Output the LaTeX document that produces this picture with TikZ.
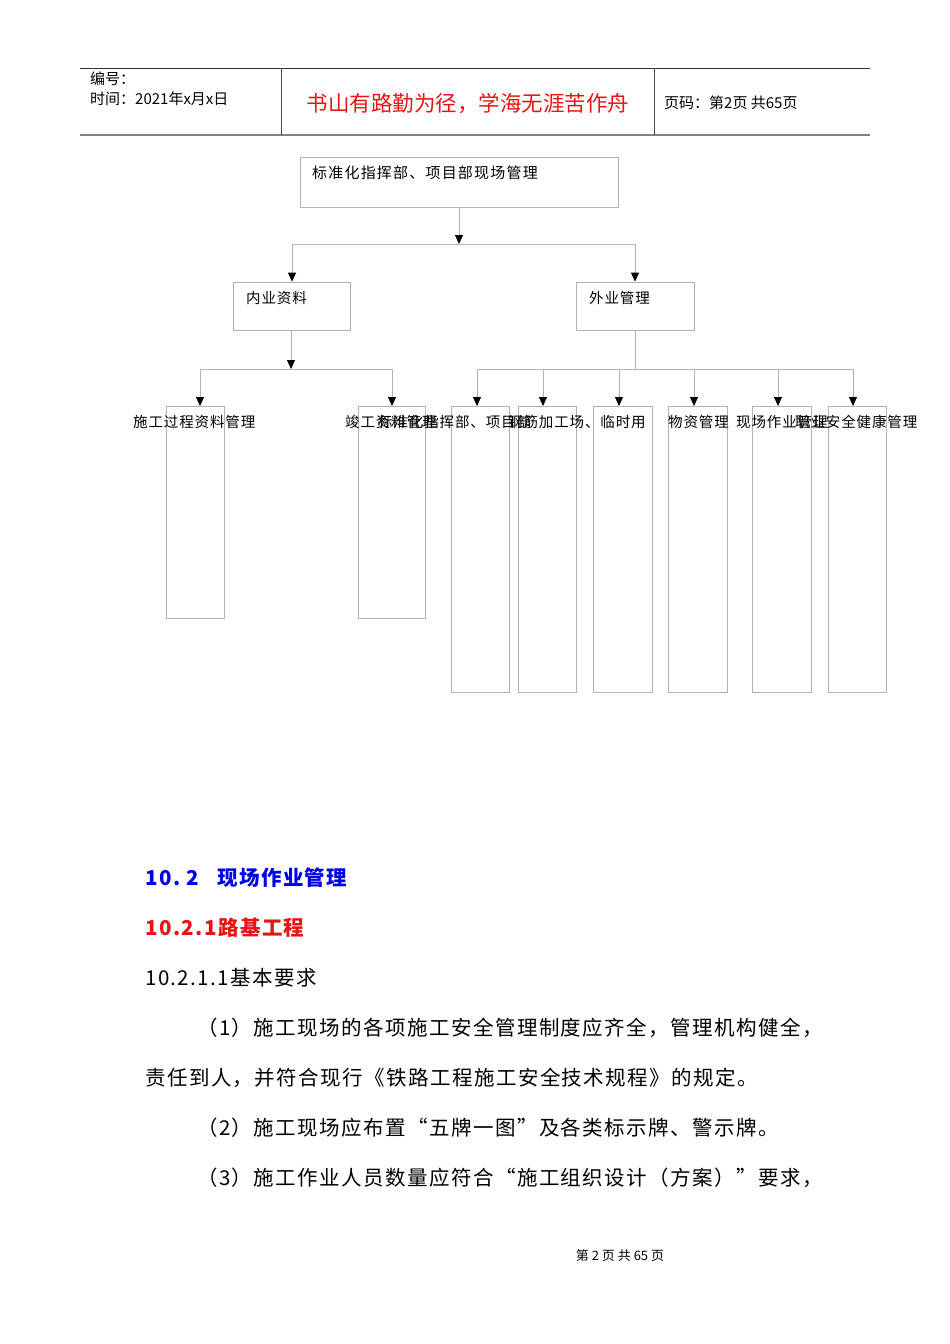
\documentclass[tikz,border=0pt]{standalone}
\usepackage{fontspec}
\setmainfont{Noto Sans CJK SC}
\usetikzlibrary{arrows.meta}
\definecolor{ln}{gray}{0.7}
\definecolor{tblue}{RGB}{0,0,230}
\definecolor{tred}{RGB}{230,20,20}
\begin{document}
\begin{tikzpicture}[x=1pt,y=-1pt,
  bx/.style={draw=ln,line width=0.8pt},
  con/.style={draw=ln,line width=0.8pt},
  arr/.style={con,-{Triangle[length=9pt,width=8pt,fill=black,color=black]}},
  lbl/.style={anchor=west,inner sep=0,font=\fontsize{14.5pt}{16pt}\selectfont\addfontfeature{LetterSpace=6}},
  hd/.style={anchor=west,inner sep=0,font=\fontsize{15pt}{17pt}\selectfont},
  body/.style={anchor=west,inner sep=0,font=\fontsize{20.5pt}{24pt}\selectfont\addfontfeature{LetterSpace=7}}]
\useasboundingbox (0,0) rectangle (950,1344);
% header
\draw[line width=0.8pt,black!80] (80,68) -- (870,68);
\draw[line width=1.6pt,black!50] (80,135) -- (870,135);
\draw[line width=0.8pt,black!70] (281,68) -- (281,135) (654,68) -- (654,135);
\node[hd] (h1) at (90,79) {编号：};
\node[hd] (h2) at (90,99) {时间：2021年x月x日};
\node[inner sep=0,text=tred,font=\fontsize{21.5pt}{24pt}\selectfont] (h3) at (468,104) {书山有路勤为径，学海无涯苦作舟};
\node[hd] (h4) at (664,103) {页码：第2页 共65页};
% tree
\node[bx,minimum width=318,minimum height=50,inner sep=0] (top) at (459,182) {};
\node[lbl,font=\fontsize{15pt}{18pt}\selectfont\addfontfeature{LetterSpace=8}] (topt) at (312,173) {标准化指挥部、项目部现场管理};
\node[bx,minimum width=117,minimum height=48,inner sep=0] (nei) at (291.5,306) {};
\node[lbl] (neit) at (246,298) {内业资料};
\node[bx,minimum width=118,minimum height=48,inner sep=0] (wai) at (635,306) {};
\node[lbl] (wait) at (589,298) {外业管理};
\coordinate (j0) at (459,244);
\draw[arr] (top.south) -- (j0);
\draw[con] (292,244) -- (635,244);
\draw[arr] (292,244) -- (nei.north -| 292,0);
\draw[arr] (635,244) -- (wai.north);
% level 3 boxes
\foreach \n/\a/\b/\h in {b1/166/224/618,b2/358/425/618,c1/451/509/692,c2/518/576/692,c3/593/652/692,c4/668/727/692,c5/752/811/692,c6/828/886/692}{
  \draw[bx] (\a,406) rectangle (\b,\h);
  \coordinate (\n) at ({(\a+\b)/2},406);
}
\coordinate (jn) at (291,369);
\draw[arr] (nei.south -| 291,0) -- (jn);
\draw[con] (200,369) -- (392,369);
\draw[arr] (200,369) -- (200,406);
\draw[arr] (392,369) -- (392,406);
\draw[con] (wai.south) -- (635,369);
\draw[con] (477,369) -- (853,369);
\foreach \x in {477,543,619,694,778,853}{\draw[arr] (\x,369) -- (\x,406);}
% labels
\node[lbl] (l1) at (133,422) {施工过程资料管理};
\node[lbl] (l2) at (345,422) {竣工资料管理};
\node[lbl] (l3) at (378,422) {标准化指挥部、项目部};
\node[lbl] (l4) at (508,422) {钢筋加工场、临时用};
\node[lbl] (l5) at (668,422) {物资管理};
\node[lbl] (l6) at (736,422) {现场作业管理};
\node[lbl] (l7) at (795,422) {职业安全健康管理};
% body text
\node[body,text=tblue,font=\bfseries\fontsize{20.5pt}{24pt}\selectfont\addfontfeature{LetterSpace=7}] (s1) at (145,878) {10.\ 2\ \ \ 现场作业管理};
\node[body,text=tred,font=\bfseries\fontsize{20.5pt}{24pt}\selectfont\addfontfeature{LetterSpace=7}] (s2) at (145,928) {10.2.1路基工程};
\node[body] (s3) at (145,978) {10.2.1.1基本要求};
\node[body] (p1) at (197,1028) {（1）施工现场的各项施工安全管理制度应齐全，管理机构健全，};
\node[body] (p2) at (145,1078) {责任到人，并符合现行《铁路工程施工安全技术规程》的规定。};
\node[body] (p3) at (197,1128) {（2）施工现场应布置“五牌一图”及各类标示牌、警示牌。};
\node[body] (p4) at (197,1178) {（3）施工作业人员数量应符合“施工组织设计（方案）”要求，};
\node[inner sep=0,font=\fontsize{13pt}{15pt}\selectfont] (ft) at (620,1256) {第 2 页 共 65 页};
\end{tikzpicture}
\end{document}
